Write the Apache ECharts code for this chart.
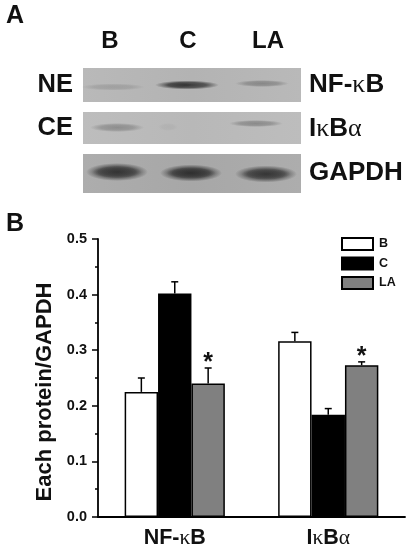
<!DOCTYPE html>
<html><head><meta charset="utf-8">
<style>html,body{margin:0;padding:0;background:#fff}#c{width:413px;height:550px}</style>
<script src="https://cdn.jsdelivr.net/npm/echarts@6/dist/echarts.min.js"></script>
</head><body><div id="c"></div>
<script>
const categories = ['NF-κB', 'IκBα'];
const seriesNames = ['B', 'C', 'LA'];
const valuesB = [0.225, 0.316];
const valuesC = [0.402, 0.184];
const valuesLA = [0.240, 0.273];
const errTopB = [0.250, 0.332];
const errTopC = [0.423, 0.195];
const errTopLA = [0.268, 0.279];
const starsLA = ['*', '*'];
const yTicks = [0, 0.1, 0.2, 0.3, 0.4, 0.5];

const FONT = '"Liberation Sans", Arial, sans-serif';
const BAR = 33.4;
const chart = echarts.init(document.getElementById('c'), null, {renderer:'canvas'});

const rich = size => ({
  g:{fontFamily:'"Liberation Serif","DejaVu Serif",serif',fontWeight:'normal',fontSize:size,fill:'#111',color:'#111'}
});
const richLabel = s => s.replace(/([κα])/g,'{g|$1}');

function blob(cx,cy,rx,ry,a){
  return {type:'circle',silent:true,x:cx,y:cy,scaleX:rx/ry,scaleY:1,shape:{cx:0,cy:0,r:ry},style:{fill:new echarts.graphic.RadialGradient(0.5,0.5,0.5,[
    {offset:0,color:`rgba(35,35,35,${a})`},{offset:0.6,color:`rgba(35,35,35,${a*0.75})`},{offset:1,color:'rgba(35,35,35,0)'}])}};
}
function panel(y,h,c1,c2){
  return {type:'rect',silent:true,shape:{x:83,y,width:218,height:h},style:{fill:new echarts.graphic.LinearGradient(0,0,1,0,[{offset:0,color:c1},{offset:0.5,color:c2},{offset:1,color:c1}])}};
}
function txt(x,y,text,size,align){
  return {type:'text',silent:true,x,y,style:{text:richLabel(text),rich:rich(size),font:`bold ${size}px ${FONT}`,fill:'#111',align:align||'left',verticalAlign:'middle'}};
}
const graphics = [
  txt(6,16,'A',25), txt(6,224,'B',25),
  txt(110,41,'B',24,'center'), txt(188,41,'C',24,'center'), txt(268,41,'LA',24,'center'),
  txt(73,85,'NE',25.5,'right'), txt(73,128,'CE',25.5,'right'),
  txt(309,85,'NF-κB',26), txt(309,129,'IκBα',26), txt(309,173,'GAPDH',26),
  panel(68,34,'#b9b9b9','#b3b3b3'), panel(112,32,'#bdbdbd','#b8b8b8'), panel(154,39,'#adadad','#a7a7a7'),
  blob(113,87,32,3.5,0.16),
  blob(187,85,32,4.5,0.85), blob(178,85,14,3,0.25),
  blob(262,83.5,27,3.5,0.32),
  blob(117,127.5,27,4.5,0.3),
  blob(168,127,10,4,0.05),
  blob(256,123.5,27,3.5,0.32),
  blob(117,172,31,9,0.78), blob(117,172,25,6,0.45),
  blob(191,173,31,8.5,0.82), blob(191,173,25,5.5,0.5),
  blob(266,174,31,8.5,0.75), blob(266,174,25,5.5,0.45)
];

function errSeries(idx, tops, vals, stars){
  const data = categories.map((c,i)=>[c, vals[i], tops[i], stars ? stars[i] : '']);
  return {type:'custom', name:'err'+idx, data, z:5, silent:true,
    encode:{x:0,y:[1,2]},
    renderItem(params, api){
      const p0 = api.coord([api.value(0), api.value(1)]);
      const p1 = api.coord([api.value(0), api.value(2)]);
      const x = p0[0] + (idx-1)*BAR;
      const st = {stroke:'#000', lineWidth:1.5};
      const children = [
        {type:'line',shape:{x1:x,y1:p0[1],x2:x,y2:p1[1]},style:st},
        {type:'line',shape:{x1:x-3.5,y1:p1[1],x2:x+3.5,y2:p1[1]},style:st}
      ];
      const s = stars ? stars[params.dataIndex] : '';
      if (s) children.push({type:'text',x,y:p1[1]+2,style:{text:s,font:`bold 25px ${FONT}`,fill:'#111',align:'center',verticalAlign:'bottom',lineHeight:14}});
      return {type:'group',children};
    }};
}
function barSeries(name, data, color){
  return {type:'bar',name,data,barWidth:BAR,barGap:0,z:3,silent:true,
    itemStyle:{color,borderColor:'#000',borderWidth:1.5}};
}

chart.setOption({
  animation:false,
  backgroundColor:'#fff',
  graphic:graphics,
  legend:{show:true,orient:'vertical',left:341,top:237,padding:0,itemWidth:31,itemHeight:12,itemGap:5.5,
    icon:'rect',data:seriesNames,selectedMode:false,
    textStyle:{fontFamily:FONT,fontWeight:'bold',fontSize:12.5,color:'#111',padding:[0,0,0,1]}},
  grid:{left:98,right:8,top:239,bottom:33,containLabel:false},
  xAxis:[{type:'category',data:categories,position:'bottom',
    axisLine:{lineStyle:{color:'#000',width:1.8}},
    axisTick:{alignWithLabel:true,length:5,inside:false,lineStyle:{color:'#000',width:1.5}},
    axisLabel:{interval:0,hideOverlap:false,margin:10,fontFamily:FONT,fontWeight:'bold',fontSize:21.5,color:'#111',
      formatter:richLabel,rich:rich(21.5)}},
   {type:'category',data:categories,position:'bottom',
    axisLine:{show:false},
    axisTick:{length:3,lineStyle:{color:'#000',width:1.5}},
    axisLabel:{show:false}}],
  yAxis:{type:'value',min:0,max:0.5,interval:0.1,
    name:'Each protein/GAPDH',nameLocation:'middle',nameGap:40,
    nameTextStyle:{fontFamily:FONT,fontWeight:'bold',fontSize:22,color:'#111',padding:[0,28,0,0]},
    splitLine:{show:false},
    axisLine:{show:true,lineStyle:{color:'#000',width:1.8}},
    axisTick:{show:true,length:6,lineStyle:{color:'#000',width:1.5}},
    minorTick:{show:true,splitNumber:2,length:3,lineStyle:{color:'#000',width:1.5}},
    axisLabel:{margin:11,fontFamily:FONT,fontWeight:'bold',fontSize:14.5,color:'#111',
      formatter:v=>yTicks.includes(Math.round(v*10)/10)?v.toFixed(1):''}},
  series:[
    barSeries('B',valuesB,'#ffffff'),
    barSeries('C',valuesC,'#000000'),
    barSeries('LA',valuesLA,'#808080'),
    errSeries(0,errTopB,valuesB),
    errSeries(1,errTopC,valuesC),
    errSeries(2,errTopLA,valuesLA,starsLA)
  ]
});
</script></body></html>
